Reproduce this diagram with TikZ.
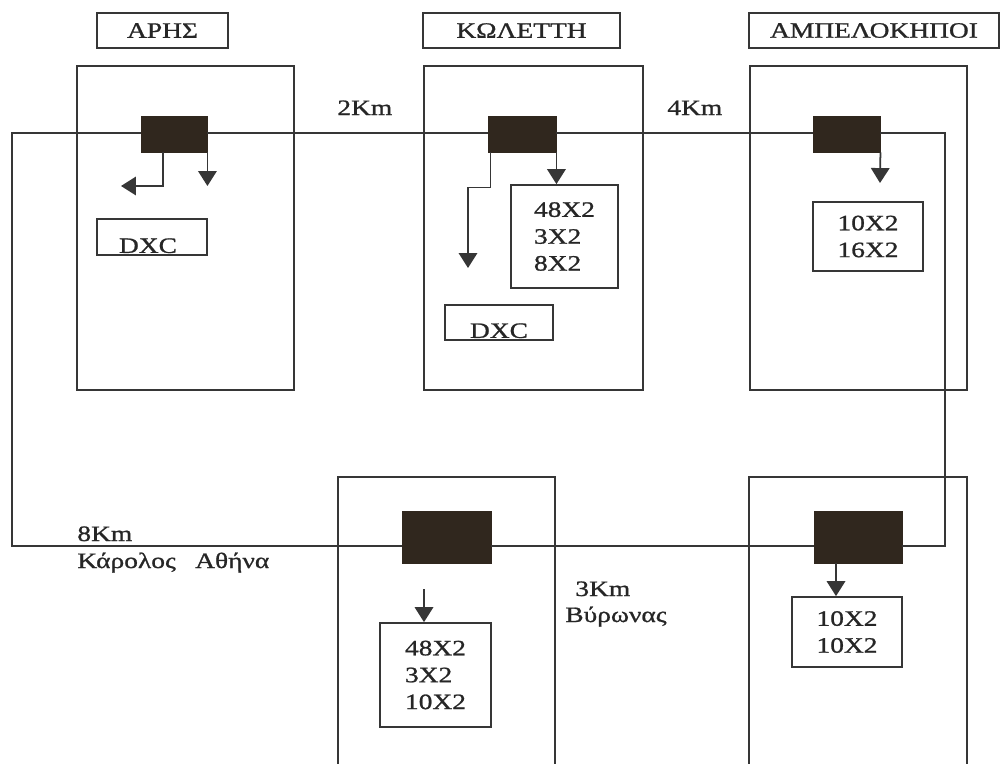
\documentclass[tikz,border=0pt]{standalone}
\usepackage{fontspec}
\setmainfont{Liberation Serif}[FakeStretch=1.25,FakeBold=1]
\usetikzlibrary{arrows.meta,calc}
\definecolor{lc}{HTML}{363636}
\definecolor{bk}{HTML}{30271E}
\definecolor{tc}{HTML}{262626}
\begin{document}
\begin{tikzpicture}[x=0.02cm,y=-0.02cm, font=\fontsize{12.5}{15.3}\selectfont, text=tc,
 sz/.style 2 args={minimum width=#1*0.02cm, minimum height=#2*0.02cm, inner sep=0pt},
 frame/.style={draw=lc, line width=1pt},
 blk/.style={fill=bk, draw=bk, line width=0.5pt},
 wire/.style={draw=lc, line width=1pt},
 arr/.style={wire, -{Triangle[length=8.5pt,width=10.5pt]}},
 lab/.style={inner sep=0pt, anchor=base west}]
\useasboundingbox (0,0) rectangle (1001,764);
\fill[white] (0,0) rectangle (1001,764);

% title boxes
\node[frame, sz={131}{35}] (tA) at (162.5,30.5) {ΑΡΗΣ};
\node[frame, sz={197}{35}] (tK) at (521.5,30.5) {ΚΩΛΕΤΤΗ};
\node[frame, sz={250}{35}] (tM) at (874,30.5) {ΑΜΠΕΛΟΚΗΠΟΙ};

% site boxes
\node[frame, sz={217}{324}] (bA) at (185.5,228) {};
\node[frame, sz={219}{324}] (bK) at (533.5,228) {};
\node[frame, sz={217}{324}] (bM) at (858.5,228) {};
\begin{scope}
\clip (0,0) rectangle (1001,764);
\node[frame, sz={217}{320}] (bV) at (446.5,637) {};
\node[frame, sz={218}{320}] (bR) at (858,637) {};
\end{scope}

% equipment (black boxes)
\node[blk, sz={66}{36}] (kA) at (174,134) {};
\node[blk, sz={68}{36}] (kK) at (522,134) {};
\node[blk, sz={67}{36}] (kM) at (846.5,134) {};
\node[blk, sz={89}{52}] (kV) at (446.5,537) {};
\node[blk, sz={88}{52}] (kR) at (858,537) {};

% ring
\coordinate (cTL) at (12,133);
\coordinate (cBL) at (12,546);
\coordinate (cTR) at (945,133);
\coordinate (cBR) at (945,546);
\draw[wire] (kA.west |- cTL) -- (cTL) -- (cBL) -- (kV.west |- cBL);
\draw[wire] (kA.east |- cTL) -- (kK.west |- cTL);
\draw[wire] (kK.east |- cTL) -- (kM.west |- cTL);
\draw[wire] (kM.east |- cTL) -- (cTR) -- (cBR) -- (kR.east |- cBR);
\draw[wire] (kV.east |- cBL) -- (kR.west |- cBL);

% DXC boxes
\node[frame, sz={110}{36}] (dA) at (152,237) {};
\node[anchor=base, inner sep=0pt] (dAt) at ($(dA.south)+(-4,-3)$) {DXC};
\node[frame, sz={108}{35}] (dK) at (499,322.5) {};
\node[anchor=base, inner sep=0pt] (dKt) at ($(dK.south)+(0,-3)$) {DXC};

% count boxes
\node[frame, sz={107}{103}, align=left] (nK) at (564.5,236.5) {48X2\\3X2\\8X2};
\node[frame, sz={110}{69}, align=center] (nM) at (868,236.5) {10X2\\16X2};
\node[frame, sz={111}{104}, align=left] (nV) at (435.5,675) {48X2\\3X2\\10X2};
\node[frame, sz={110}{70}, align=center] (nR) at (847,632) {10X2\\10X2};

% arrows
\coordinate (aA1) at (121,186);
\draw[arr] ($(kA.south)+(-11,0)$) |- (aA1);
\draw[arr] (kA.south east) -- (kA.south east |- aA1);
\draw[arr] (kK.south east) -- (kK.south east |- nK.north);
\coordinate (aK1) at (468,268);
\draw[arr] ($(kK.south west)+(3,0)$) -- ++(0,35) -| (aK1);
\coordinate (aM1) at (880,183);
\draw[arr] (kM.south east) -- (aM1);
\coordinate (aV0) at (424,589);
\draw[arr] (aV0) -- (aV0 |- nV.north);
\coordinate (aR0) at (836,563);
\draw[arr] (aR0) -- (aR0 |- nR.north);

% distance labels
\node[lab] (l2) at (337,115) {2Km};
\node[lab] (l4) at (667,115) {4Km};
\node[lab] (l8) at (77,541) {8Km};
\node[lab] (lKA) at (77,568) {Κάρολος\hspace{11pt}Αθήνα};
\node[lab] (l3) at (575,596) {3Km};
\node[lab] (lV) at (565,622) {Βύρωνας};
\end{tikzpicture}
\end{document}
